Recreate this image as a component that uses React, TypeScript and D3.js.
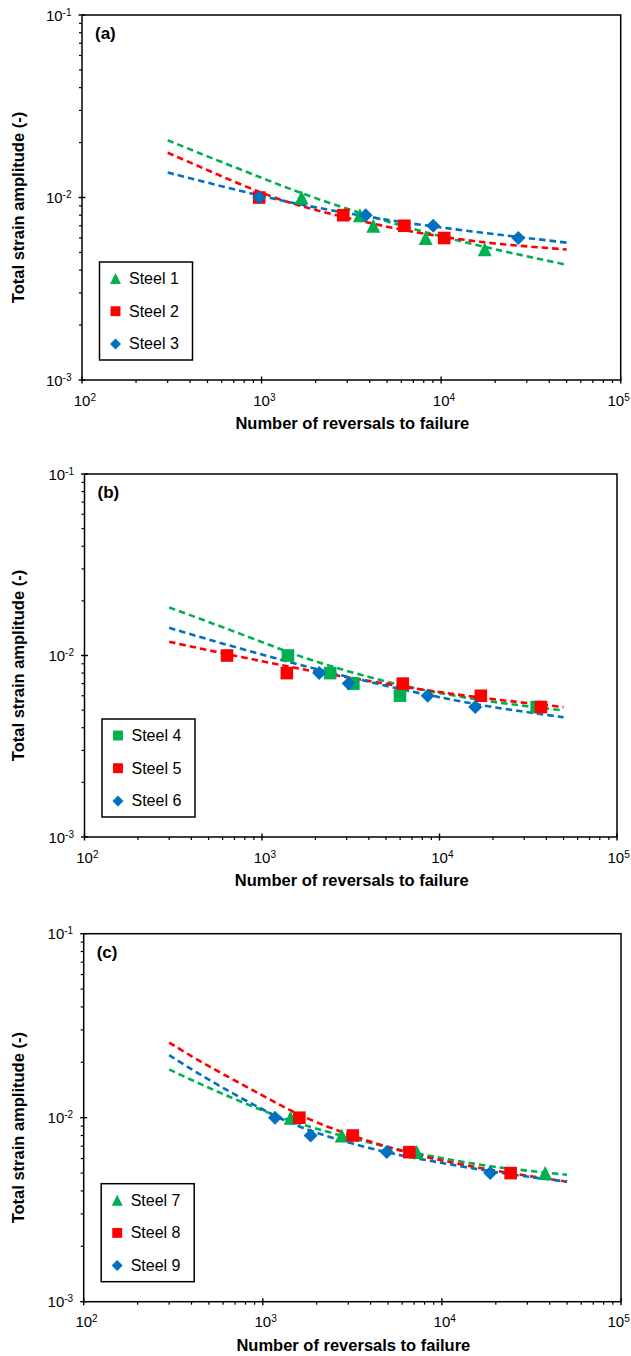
import React from "react";
import * as d3 from "d3";

const curveN = [300, 500, 1000, 2000, 5000, 10000, 20000, 50000];

const xTickExps = [2, 3, 4, 5];
const yTickExps = [-1, -2, -3];
const panelLabels = ["(a)", "(b)", "(c)"];
const steelNames = ["Steel 1", "Steel 2", "Steel 3", "Steel 4", "Steel 5", "Steel 6", "Steel 7", "Steel 8", "Steel 9"];

// panel (a)
const steel1N = [1670, 3530, 4190, 8200, 17500];
const steel1E = [0.01, 0.008, 0.007, 0.006, 0.0052];
const steel2N = [970, 2850, 6240, 10400];
const steel2E = [0.01, 0.008, 0.007, 0.006];
const steel3N = [970, 3800, 9040, 26900];
const steel3E = [0.01, 0.008, 0.007, 0.006];
const fit1 = [0.0206, 0.0168, 0.01282, 0.00992, 0.0074, 0.00613, 0.0052, 0.00428];
const fit2 = [0.0176, 0.01413, 0.01062, 0.00855, 0.00692, 0.00612, 0.0056, 0.00519];
const fit3 = [0.0137, 0.01206, 0.01021, 0.00883, 0.00755, 0.00685, 0.00629, 0.00566];

// panel (b)
const steel4N = [1400, 2420, 3270, 5990, 35300];
const steel4E = [0.01, 0.008, 0.007, 0.006, 0.0052];
const steel5N = [635, 1380, 6210, 17100, 37300];
const steel5E = [0.01, 0.008, 0.007, 0.006, 0.0052];
const steel6N = [2100, 3080, 8580, 15900];
const steel6E = [0.008, 0.007, 0.006, 0.0052];
const fit4 = [0.0184, 0.01531, 0.01185, 0.00929, 0.00719, 0.00622, 0.00556, 0.00498];
const fit5 = [0.0119, 0.01069, 0.0093, 0.00815, 0.00698, 0.00629, 0.00575, 0.0052];
const fit6 = [0.0142, 0.01225, 0.01012, 0.00845, 0.00681, 0.00589, 0.0052, 0.00457];

// panel (c)
const steel7N = [1430, 2760, 7230, 37700];
const steel7E = [0.01, 0.008, 0.0065, 0.005];
const steel8N = [1600, 3180, 6580, 24200];
const steel8E = [0.01, 0.008, 0.0065, 0.005];
const steel9N = [1170, 1850, 4920, 18600];
const steel9E = [0.01, 0.008, 0.0065, 0.005];
const fit7 = [0.0183, 0.01454, 0.01094, 0.00871, 0.00692, 0.00603, 0.0054, 0.0049];
const fit8 = [0.0256, 0.01905, 0.01318, 0.00944, 0.00692, 0.00586, 0.00515, 0.00449];
const fit9 = [0.0219, 0.0161, 0.01108, 0.00828, 0.00647, 0.00568, 0.00506, 0.00449];

const GREEN = "#00B050";
const RED = "#FF0000";
const BLUE = "#0070C0";
const FONT = "'Liberation Sans', Arial, sans-serif";

type Series = { name: string; marker: string; color: string; n: number[]; e: number[]; fit: number[] };

const panels: { label: string; left: number; right: number; top: number; bottom: number; series: Series[] }[] = [
  {
    label: panelLabels[0], left: 82, right: 620.7, top: 15, bottom: 380,
    series: [
      { name: steelNames[0], marker: "triangle", color: GREEN, n: steel1N, e: steel1E, fit: fit1 },
      { name: steelNames[1], marker: "square", color: RED, n: steel2N, e: steel2E, fit: fit2 },
      { name: steelNames[2], marker: "diamond", color: BLUE, n: steel3N, e: steel3E, fit: fit3 },
    ],
  },
  {
    label: panelLabels[1], left: 84.5, right: 617, top: 474, bottom: 837,
    series: [
      { name: steelNames[3], marker: "square", color: GREEN, n: steel4N, e: steel4E, fit: fit4 },
      { name: steelNames[4], marker: "square", color: RED, n: steel5N, e: steel5E, fit: fit5 },
      { name: steelNames[5], marker: "diamond", color: BLUE, n: steel6N, e: steel6E, fit: fit6 },
    ],
  },
  {
    label: panelLabels[2], left: 83.7, right: 621, top: 933.7, bottom: 1301.7,
    series: [
      { name: steelNames[6], marker: "triangle", color: GREEN, n: steel7N, e: steel7E, fit: fit7 },
      { name: steelNames[7], marker: "square", color: RED, n: steel8N, e: steel8E, fit: fit8 },
      { name: steelNames[8], marker: "diamond", color: BLUE, n: steel9N, e: steel9E, fit: fit9 },
    ],
  },
];

function markerPath(type: string, s: number) {
  const h = s / 2;
  if (type === "triangle") return `M0,${-h}L${h},${h}L${-h},${h}Z`;
  if (type === "diamond") return `M0,${-h}L${h},0L0,${h}L${-h},0Z`;
  return `M${-h * 0.9},${-h * 0.9}h${s * 0.9}v${s * 0.9}h${-s * 0.9}Z`;
}

function Panel({ p }: { p: (typeof panels)[number] }) {
  const x = d3.scaleLog().domain([1e2, 1e5]).range([p.left, p.right]);
  const y = d3.scaleLog().domain([1e-3, 1e-1]).range([p.bottom, p.top]);
  const line = d3
    .line<number>()
    .x((_, i) => x(curveN[i]))
    .y((d) => y(d))
    .curve(d3.curveNatural);

  const xMinor: number[] = [];
  [2, 3, 4].forEach((k) => d3.range(2, 10).forEach((m) => xMinor.push(m * 10 ** k)));
  const yMinor: number[] = [];
  [-3, -2].forEach((k) => d3.range(2, 10).forEach((m) => yMinor.push(m * 10 ** k)));

  const lx = p.left + 17.5;
  const ly = p.bottom - 118;

  return (
    <g fontFamily={FONT} fill="#000">
      <rect x={p.left} y={p.top} width={p.right - p.left} height={p.bottom - p.top} fill="none" stroke="#000" strokeWidth={1.5} />
      {xMinor.map((v) => (
        <line key={"xm" + v} x1={x(v)} x2={x(v)} y1={p.bottom} y2={p.bottom + 3} stroke="#000" strokeWidth={1.2} />
      ))}
      {xTickExps.map((k) => (
        <line key={"xM" + k} x1={x(10 ** k)} x2={x(10 ** k)} y1={p.bottom - 3.5} y2={p.bottom + 3.5} stroke="#000" strokeWidth={1.4} />
      ))}
      {yMinor.map((v) => (
        <line key={"ym" + v} x1={p.left - 3} x2={p.left} y1={y(v)} y2={y(v)} stroke="#000" strokeWidth={1.2} />
      ))}
      {yTickExps.map((k) => (
        <line key={"yM" + k} x1={p.left - 3.5} x2={p.left + 3.5} y1={y(10 ** k)} y2={y(10 ** k)} stroke="#000" strokeWidth={1.4} />
      ))}
      {xTickExps.map((k) => (
        <text key={"xl" + k} x={Math.min(x(10 ** k) - 8.3, 607.5)} y={p.bottom + 25.7} fontSize={15}>
          10<tspan fontSize={10} dy={-5}>{k}</tspan>
        </text>
      ))}
      {yTickExps.map((k) => (
        <text key={"yl" + k} x={p.left - 10.5} y={y(10 ** k) + 5.5} fontSize={15} textAnchor="end">
          10<tspan fontSize={10} dy={-5}>{k}</tspan>
        </text>
      ))}
      <text x={(p.left + p.right) / 2 + 1} y={p.bottom + 49} fontSize={16.5} fontWeight="bold" textAnchor="middle">
        Number of reversals to failure
      </text>
      <text
        transform={`translate(23.5,${(p.top + p.bottom) / 2 + 10}) rotate(-90)`}
        fontSize={16.5}
        fontWeight="bold"
        textAnchor="middle"
      >
        Total strain amplitude (-)
      </text>
      <text x={p.left + 13} y={p.top + 24.3} fontSize={17} fontWeight="bold">
        {p.label}
      </text>

      {p.series.map((s) => (
        <path key={"f" + s.name} d={line(s.fit) || ""} fill="none" stroke={s.color} strokeWidth={2.6} strokeDasharray="6.5,4" />
      ))}
      {p.series.map((s) =>
        s.n.map((n, i) => (
          <path key={s.name + i} d={markerPath(s.marker, 14)} transform={`translate(${x(n)},${y(s.e[i])})`} fill={s.color} />
        ))
      )}

      <rect x={lx} y={ly} width={93} height={98} fill="#fff" stroke="#000" strokeWidth={1.5} />
      {p.series.map((s, i) => (
        <g key={"lg" + s.name} transform={`translate(${lx},${ly + 16.5 + i * 32.7})`}>
          <path d={markerPath(s.marker, 11)} transform="translate(16,0)" fill={s.color} />
          <text x={29.5} y={5.5} fontSize={16}>
            {s.name}
          </text>
        </g>
      ))}
    </g>
  );
}

export default function App() {
  return (
    <div style={{ position: "absolute", left: 0, top: 0, background: "#fff" }}>
      <svg width={631} height={1356} style={{ display: "block" }}>
        <rect width={631} height={1356} fill="#fff" />
        {panels.map((p) => (
          <Panel key={p.label} p={p} />
        ))}
      </svg>
    </div>
  );
}
